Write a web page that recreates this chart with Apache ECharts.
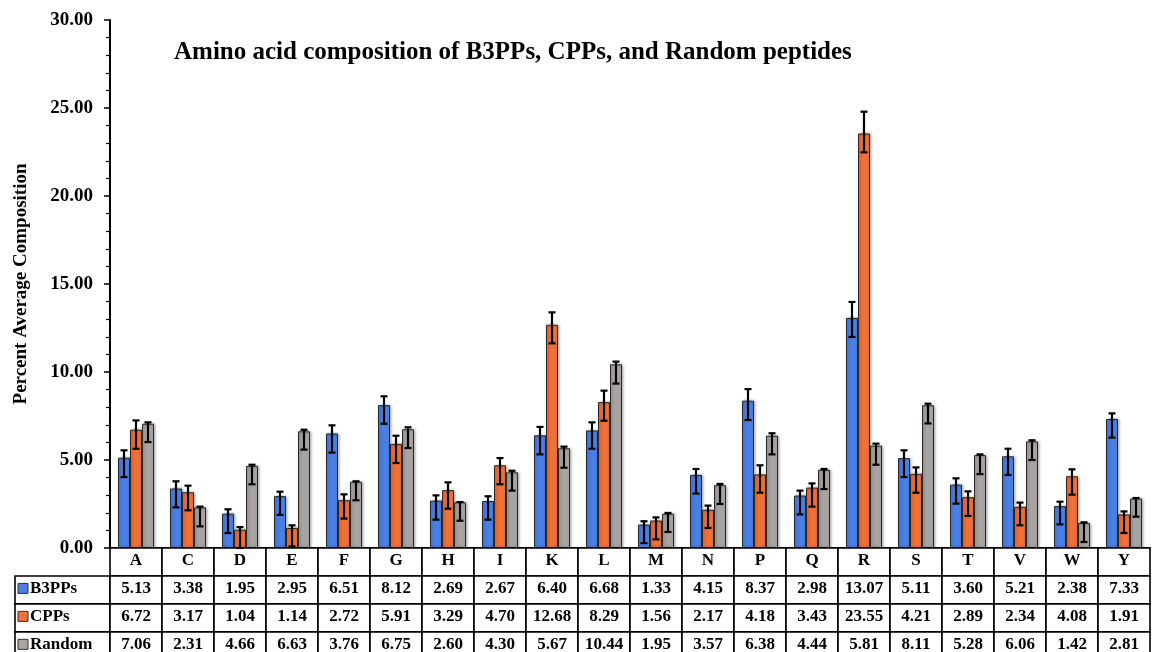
<!DOCTYPE html>
<html>
<head>
<meta charset="utf-8">
<script src="https://cdn.jsdelivr.net/npm/echarts@6/dist/echarts.min.js"></script>
<style>html,body{margin:0;padding:0;background:#fff;}#main{width:1158px;height:652px;}</style>
</head>
<body>
<div id="main"></div>
<script>
const categories = ['A','C','D','E','F','G','H','I','K','L','M','N','P','Q','R','S','T','V','W','Y'];
const seriesNames = ['B3PPs','CPPs','Random'];
const b3pps  = [5.13,3.38,1.95,2.95,6.51,8.12,2.69,2.67,6.40,6.68,1.33,4.15,8.37,2.98,13.07,5.11,3.60,5.21,2.38,7.33];
const cpps   = [6.72,3.17,1.04,1.14,2.72,5.91,3.29,4.70,12.68,8.29,1.56,2.17,4.18,3.43,23.55,4.21,2.89,2.34,4.08,1.91];
const random = [7.06,2.31,4.66,6.63,3.76,6.75,2.60,4.30,5.67,10.44,1.95,3.57,6.38,4.44,5.81,8.11,5.28,6.06,1.42,2.81];
// error bar ends (upper / lower)
const b3High  = [5.55,3.79,2.20,3.20,6.97,8.62,2.99,2.94,6.88,7.14,1.52,4.49,9.03,3.26,13.98,5.55,3.96,5.64,2.63,7.65];
const b3Low   = [4.03,2.31,0.85,1.88,5.42,7.06,1.61,1.61,5.32,5.64,0.28,3.09,7.27,1.91,11.99,4.03,2.52,4.15,1.34,6.27];
const cppHigh = [7.25,3.54,1.19,1.29,3.05,6.38,3.73,5.11,13.39,8.94,1.74,2.41,4.70,3.67,24.79,4.58,3.22,2.58,4.47,2.08];
const cppLow  = [5.64,2.14,0.00,0.09,1.67,4.83,2.23,3.62,11.63,7.23,0.49,1.14,3.14,2.35,22.48,3.14,1.82,1.29,3.03,0.85];
const rndHigh = [7.14,2.35,4.73,6.72,3.79,6.86,2.61,4.39,5.76,10.59,1.99,3.64,6.52,4.49,5.93,8.20,5.32,6.12,1.46,2.84];
const rndLow  = [6.02,1.23,3.62,5.59,2.71,5.68,1.55,3.26,4.56,9.34,0.91,2.50,5.32,3.35,4.73,7.08,4.20,5.00,0.34,1.78];
const yTicks = [0,5,10,15,20,25,30];

const colors = ['#4a80e6','#f0703a','#a9a3a2'];
const FONT = '"Liberation Serif", "Times New Roman", serif';
const BAR_W = 12;

const values = [b3pps, cpps, random];
const highs = [b3High, cppHigh, rndHigh];
const lows = [b3Low, cppLow, rndLow];

// table cells
const LEG_W = -95/52;
const cells = [];
categories.forEach((c, i) => cells.push({x0: i, x1: i + 1, r: 0, text: c, kind: 'h'}));
values.forEach((arr, s) => {
  cells.push({x0: LEG_W, x1: 0, r: s + 1, text: seriesNames[s], kind: 'leg', color: colors[s]});
  arr.forEach((v, i) => cells.push({x0: i, x1: i + 1, r: s + 1, text: v.toFixed(2), kind: 'v'}));
});

const chart = echarts.init(document.getElementById('main'), null, {renderer: 'canvas'});

const barSeries = values.map((arr, s) => ({
  type: 'bar', name: seriesNames[s], data: arr, barWidth: BAR_W, barGap: '0%',
  xAxisIndex: 0, yAxisIndex: 0,
  itemStyle: {color: colors[s], borderColor: '#2a2a2a', borderWidth: 1,
    shadowColor: 'rgba(0,0,0,0.35)', shadowBlur: 3, shadowOffsetX: 1, shadowOffsetY: 0},
  emphasis: {disabled: true}, silent: true
}));

const errSeries = values.map((arr, s) => ({
  type: 'custom', name: seriesNames[s] + ' err', xAxisIndex: 0, yAxisIndex: 0, silent: true, z: 5,
  data: arr.map((v, i) => [i, highs[s][i], lows[s][i]]),
  renderItem: function (params, api) {
    const i = api.value(0);
    const top = api.coord([i, api.value(1)]);
    const bot = api.coord([i, api.value(2)]);
    const x = top[0] + (s - 1) * BAR_W;
    const cap = 3.5;
    const st = {stroke: '#000', lineWidth: 2.2};
    return {type: 'group', children: [
      {type: 'line', shape: {x1: x, y1: top[1], x2: x, y2: bot[1]}, style: st},
      {type: 'line', shape: {x1: x - cap, y1: top[1], x2: x + cap, y2: top[1]}, style: st},
      {type: 'line', shape: {x1: x - cap, y1: bot[1], x2: x + cap, y2: bot[1]}, style: st}
    ]};
  }
}));

const tableSeries = {
  type: 'custom', xAxisIndex: 1, yAxisIndex: 1, silent: true, z: 3, clip: false,
  data: cells.map(c => [c.x0, c.r]),
  renderItem: function (params, api) {
    const c = cells[params.dataIndex];
    const p0 = api.coord([c.x0, c.r]);
    const p1 = api.coord([c.x1, c.r + 1]);
    const w = p1[0] - p0[0], h = p1[1] - p0[1];
    const ty = p0[1] + h / 2 - 1.5;
    const children = [{type: 'rect', shape: {x: p0[0], y: p0[1], width: w, height: h},
      style: {fill: '#fff', stroke: '#000', lineWidth: 1.6}}];
    if (c.kind === 'leg') {
      children.push({type: 'rect', shape: {x: p0[0] + 3, y: ty - 5, width: 10, height: 10},
        style: {fill: c.color, stroke: '#333', lineWidth: 1}});
      children.push({type: 'text', style: {x: p0[0] + 15, y: ty, text: c.text,
        font: 'bold 17px ' + FONT, fill: '#000', align: 'left', verticalAlign: 'middle'}});
    } else {
      children.push({type: 'text', style: {x: p0[0] + w / 2, y: ty, text: c.text,
        font: 'bold 17px ' + FONT, fill: '#000', align: 'center', verticalAlign: 'middle'}});
    }
    return {type: 'group', children: children};
  }
};

chart.setOption({
  animation: false,
  backgroundColor: '#fff',
  title: {text: 'Amino acid composition of B3PPs, CPPs, and Random peptides', left: 169, top: 35,
    textStyle: {fontFamily: FONT, fontWeight: 'bold', fontSize: 25, color: '#000'}},
  grid: [
    {left: 110, right: 8, top: 20, bottom: 104, containLabel: false},
    {left: 15, right: 8, top: 548, bottom: 0, containLabel: false}
  ],
  xAxis: [
    {type: 'category', data: categories, gridIndex: 0, boundaryGap: true,
      axisLine: {show: true, lineStyle: {color: '#000', width: 2}}, axisTick: {show: false},
      axisLabel: {show: false}, splitLine: {show: false}},
    {type: 'value', gridIndex: 1, min: LEG_W, max: 20, show: false}
  ],
  yAxis: [
    {type: 'value', gridIndex: 0, min: yTicks[0], max: yTicks[yTicks.length - 1], interval: 5,
      name: 'Percent Average Composition', nameLocation: 'middle', nameGap: 79,
      nameTextStyle: {fontFamily: FONT, fontWeight: 'bold', fontSize: 19, color: '#000'},
      axisLine: {show: true, lineStyle: {color: '#000', width: 2}},
      axisTick: {show: true, length: 6, lineStyle: {color: '#000', width: 1.5}},
      minorTick: {show: true, splitNumber: 5, length: 4, lineStyle: {color: '#000', width: 1.2}},
      axisLabel: {formatter: v => v.toFixed(2), fontFamily: FONT, fontWeight: 'bold', fontSize: 19, color: '#000', margin: 17},
      splitLine: {show: false}},
    {type: 'value', gridIndex: 1, min: 0, max: 3.72, inverse: true, show: false}
  ],
  series: [...barSeries, ...errSeries, tableSeries]
});
</script>
</body>
</html>
